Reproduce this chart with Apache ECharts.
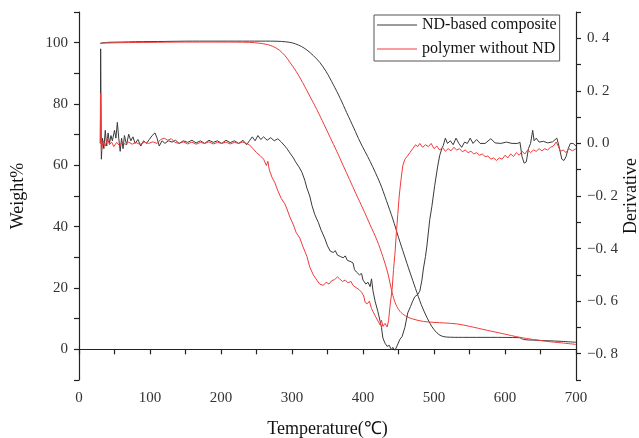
<!DOCTYPE html>
<html lang="en">
<head>
    <meta charset="UTF-8">
    <title>TGA / DTG</title>
    <script src="https://cdn.jsdelivr.net/npm/echarts@6/dist/echarts.min.js"></script>
    <style>
        body { margin: 0; background: #fff; }
    </style>
</head>
<body>
    <div id="chart" style="width: 639px; height: 438px;"></div>

    <script type="text/javascript">
        // legend names
        var seriesNames = ['ND-based composite', 'polymer without ND'];

        // weight % vs temperature (TGA), [T, W]
        var ndWeight = [
            [30, 99.8], [40, 100.1], [60, 100.2], [80, 100.3], [120, 100.4], [160, 100.5], [200, 100.5],
            [240, 100.5], [270, 100.5], [285, 100.4], [297, 100.1], [305, 99.6], [313, 98.8], [321, 97.6],
            [330, 95.8], [339, 93.6], [348, 90.6], [358, 86.4], [368, 81.8], [377, 77.2], [387, 72.2],
            [396, 67.6], [410, 61.3], [424, 54.2], [433, 48.5], [442, 42.5], [450, 36.5], [458, 30.8],
            [466, 25.2], [474, 19.8], [482, 14.6], [490, 10.4], [497, 7.4], [504, 5.4], [510, 4.4],
            [518, 4.0], [540, 3.9], [580, 3.9], [620, 3.8], [626, 3.2], [640, 3.0], [660, 2.8],
            [680, 2.6], [700, 2.3]
        ];
        var polyWeight = [
            [30, 99.8], [60, 100.0], [100, 100.1], [150, 100.2], [200, 100.2], [240, 100.1], [255, 99.8],
            [265, 99.4], [273, 98.8], [282, 97.6], [290, 95.8], [297, 93.6], [306, 90.6], [315, 87.0],
            [325, 82.6], [335, 78.2], [345, 73.4], [354, 69.0], [363, 64.6], [372, 60.0], [381, 55.4],
            [390, 50.8], [400, 45.8], [410, 40.6], [420, 35.4], [428, 30.2], [435, 24.8], [441, 18.5],
            [446, 14.8], [452, 12.4], [460, 10.9], [470, 9.9], [485, 9.1], [500, 8.8], [515, 8.6],
            [532, 8.3], [550, 7.5], [575, 6.2], [597, 5.1], [621, 3.9], [640, 3.2], [659, 2.6],
            [680, 2.1], [700, 1.6]
        ];

        // derivative vs temperature (DTG), [T, D]
        var ndDeriv = [
            [30, 0.0], [30.5, 0.36], [31.5, -0.06], [33, 0.02], [35, -0.02], [37, 0.05], [39, -0.01],
            [41, 0.04], [43, 0.0], [45, 0.03], [47, 0.01], [50, 0.05], [52, 0.02], [54, 0.08],
            [56, 0.02], [58, -0.03], [60, 0.02], [62, -0.02], [64, 0.03], [67, -0.005], [70, 0.035],
            [73, 0.01], [76, 0.025], [79, 0.0], [83, 0.015], [87, -0.01], [91, 0.01], [95, 0.0],
            [99, 0.015], [103, 0.03], [107, 0.04], [110, 0.02], [113, -0.01], [117, 0.01], [121, 0.0],
            [126, 0.01], [131, 0.005], [136, 0.012], [141, 0.0], [147, 0.01], [153, 0.004], [159, 0.012],
            [165, 0.002], [171, 0.01], [177, 0.0], [183, 0.012], [189, 0.004], [195, 0.01], [201, 0.0],
            [207, 0.012], [213, 0.003], [219, 0.01], [225, 0.0], [231, 0.012], [236, -0.005], [240, 0.01],
            [244, 0.025], [248, 0.01], [252, 0.03], [256, 0.015], [260, 0.025], [265, 0.012], [270, 0.022],
            [275, 0.01], [280, 0.018], [285, 0.005], [290, -0.01], [293, -0.02], [298, -0.04], [302, -0.055],
            [305, -0.07], [310, -0.09], [314, -0.11], [318, -0.14], [321, -0.17], [325, -0.2], [328, -0.235],
            [332, -0.27], [337, -0.3], [341, -0.33], [346, -0.36], [350, -0.39], [354, -0.41], [358, -0.415],
            [361, -0.408], [364, -0.425], [368, -0.43], [372, -0.435], [375, -0.428], [378, -0.445],
            [383, -0.45], [386, -0.455], [388, -0.48], [391, -0.49], [395, -0.5], [398, -0.495],
            [400, -0.52], [404, -0.535], [407, -0.528], [410, -0.545], [412, -0.515], [414, -0.56],
            [417, -0.6], [421, -0.64], [424, -0.675], [426, -0.7], [428, -0.74], [431, -0.76], [434, -0.772],
            [437, -0.768], [440, -0.785], [442, -0.776], [445, -0.787], [448, -0.77], [452, -0.745],
            [455, -0.735], [459, -0.7], [463, -0.645], [467, -0.62], [470, -0.6], [473, -0.583],
            [477, -0.575], [480, -0.562], [483, -0.52], [485, -0.478], [488, -0.43], [490, -0.39],
            [494, -0.29], [497, -0.24], [501, -0.16], [505, -0.09], [508, -0.046], [511, -0.02],
            [513, -0.008], [516, 0.02], [519, 0.0], [523, 0.01], [527, -0.005], [531, 0.02], [535, 0.0],
            [539, -0.015], [543, 0.005], [547, 0.0], [551, 0.02], [555, 0.0], [560, 0.015], [565, 0.0],
            [572, 0.0], [580, 0.018], [586, 0.002], [594, 0.0], [602, 0.005], [610, 0.0], [618, 0.0],
            [621, 0.005], [624, -0.05], [627, -0.075], [630, -0.07], [633, -0.02], [636, 0.0], [639, 0.05],
            [641, 0.01], [644, 0.02], [648, 0.005], [654, 0.008], [660, 0.002], [667, 0.006], [673, 0.02],
            [676, -0.01], [680, -0.06], [683, -0.065], [686, -0.05], [689, -0.02], [692, 0.0], [696, 0.0],
            [700, -0.01]
        ];
        var polyDeriv = [
            [30, 0.0], [30.5, 0.19], [31.5, -0.03], [34, 0.01], [37, -0.01], [40, 0.02], [43, -0.005],
            [46, 0.005], [49, -0.012], [53, 0.004], [57, -0.008], [61, 0.006], [65, -0.004], [70, 0.005],
            [75, -0.003], [80, 0.004], [86, -0.004], [92, 0.005], [98, 0.0], [104, 0.006], [110, 0.0],
            [115, 0.015], [120, 0.02], [125, 0.012], [130, 0.018], [135, 0.004], [141, 0.0], [147, 0.006],
            [153, -0.002], [159, 0.005], [165, -0.003], [171, 0.004], [177, 0.0], [183, 0.006], [189, -0.002],
            [195, 0.004], [201, 0.0], [207, 0.005], [213, -0.002], [219, 0.004], [225, 0.0], [230, 0.005],
            [236, 0.0], [240, -0.005], [245, -0.02], [250, -0.035], [255, -0.046], [260, -0.06],
            [264, -0.084], [266, -0.068], [268, -0.1], [272, -0.13], [276, -0.15], [280, -0.18],
            [285, -0.21], [290, -0.23], [293, -0.25], [297, -0.28], [302, -0.31], [306, -0.34],
            [311, -0.36], [315, -0.39], [318, -0.41], [321, -0.43], [325, -0.47], [330, -0.5],
            [335, -0.52], [339, -0.535], [344, -0.54], [348, -0.528], [352, -0.535], [356, -0.522],
            [360, -0.518], [364, -0.508], [367, -0.515], [371, -0.525], [375, -0.52], [379, -0.53],
            [383, -0.525], [386, -0.54], [390, -0.548], [394, -0.555], [398, -0.566], [401, -0.58],
            [403, -0.605], [406, -0.61], [409, -0.6], [412, -0.628], [415, -0.645], [418, -0.66],
            [421, -0.675], [424, -0.69], [426, -0.672], [428, -0.696], [431, -0.685], [434, -0.698],
            [436, -0.675], [438, -0.62], [441, -0.555], [443, -0.48], [445, -0.42], [447, -0.34],
            [449, -0.27], [451, -0.2], [453, -0.15], [456, -0.085], [459, -0.06], [462, -0.05],
            [466, -0.035], [470, -0.02], [474, -0.005], [477, -0.012], [480, 0.0], [484, -0.015],
            [488, -0.005], [492, -0.012], [496, 0.0], [500, -0.02], [504, -0.01], [508, -0.025],
            [512, -0.015], [516, -0.03], [520, -0.02], [524, -0.028], [528, -0.015], [532, -0.025],
            [536, -0.02], [540, -0.032], [544, -0.025], [548, -0.035], [552, -0.03], [556, -0.04],
            [560, -0.035], [564, -0.045], [568, -0.04], [572, -0.05], [576, -0.048], [580, -0.06],
            [584, -0.055], [588, -0.065], [592, -0.055], [596, -0.06], [600, -0.045], [604, -0.055],
            [608, -0.04], [612, -0.05], [616, -0.035], [620, -0.045], [624, -0.03], [628, -0.04],
            [632, -0.025], [636, -0.035], [640, -0.025], [644, -0.03], [648, -0.02], [652, -0.028],
            [656, -0.02], [660, -0.025], [664, -0.015], [668, -0.01], [672, 0.005], [675, -0.01],
            [678, -0.03], [682, -0.025], [686, -0.035], [690, -0.02], [695, -0.028], [700, -0.02]
        ];

        // tick values that get a label
        var weightLabels = [0, 20, 40, 60, 80, 100];
        var tempLabels = [0, 100, 200, 300, 400, 500, 600, 700];
        var derivLabels = [-0.8, -0.6, -0.4, -0.2, 0.0, 0.2, 0.4];

        var serif = 'Liberation Serif';
        var black = '#3a3a3a';
        var red = '#f23a3a';

        function hasLabel(list, v) {
            for (var i = 0; i < list.length; i++) {
                if (Math.abs(list[i] - v) < 1e-6) return true;
            }
            return false;
        }

        var axisLine = { show: true, lineStyle: { color: '#222', width: 1.2 } };
        var axisTick = { show: true, inside: false, length: 5, lineStyle: { color: '#222', width: 1.2 } };

        var option = {
            animation: false,
            backgroundColor: '#fff',
            grid: { left: 79, right: 63, top: 12, bottom: 58, containLabel: false, outerBoundsMode: 'none' },
            legend: {
                orient: 'vertical',
                left: 374,
                top: 15,
                data: seriesNames,
                icon: 'rect',
                itemWidth: 40,
                itemHeight: 1,
                itemGap: 8,
                padding: [2, 3, 4, 3],
                borderColor: '#555',
                borderWidth: 1,
                textStyle: { fontFamily: serif, fontSize: 16, color: '#111', lineHeight: 16 }
            },
            xAxis: {
                type: 'value',
                min: 0,
                max: 700,
                interval: 50,
                name: 'Temperature(℃)',
                nameLocation: 'middle',
                nameGap: 40,
                nameMoveOverlap: false,
                nameTextStyle: { fontFamily: serif, fontSize: 18, color: '#111' },
                axisLine: axisLine,
                axisTick: axisTick,
                splitLine: { show: false },
                axisLabel: {
                    margin: 11,
                    fontFamily: serif,
                    fontSize: 15,
                    color: '#333',
                    formatter: function (v) { return hasLabel(tempLabels, v) ? String(v) : ''; }
                }
            },
            yAxis: [{
                type: 'value',
                position: 'left',
                min: -10,
                max: 110,
                interval: 10,
                name: 'Weight%',
                nameLocation: 'middle',
                nameGap: 52,
                nameMoveOverlap: false,
                nameTextStyle: { fontFamily: serif, fontSize: 18, color: '#111' },
                axisLine: axisLine,
                axisTick: axisTick,
                splitLine: { show: false },
                axisLabel: {
                    margin: 11,
                    fontFamily: serif,
                    fontSize: 15,
                    color: '#333',
                    formatter: function (v) { return hasLabel(weightLabels, v) ? String(v) : ''; }
                }
            }, {
                type: 'value',
                position: 'right',
                min: -0.9,
                max: 0.5,
                interval: 0.1,
                name: 'Derivative',
                nameLocation: 'middle',
                nameGap: 46,
                nameMoveOverlap: false,
                nameTextStyle: { fontFamily: serif, fontSize: 18, color: '#111' },
                axisLine: axisLine,
                axisTick: axisTick,
                splitLine: { show: false },
                axisLabel: {
                    margin: 11,
                    fontFamily: serif,
                    fontSize: 15,
                    color: '#333',
                    formatter: function (v) {
                        if (!hasLabel(derivLabels, v)) return '';
                        var s = Math.abs(v).toFixed(1).replace('.', '. ');
                        return (v < -1e-6 ? '\u2212' : '') + s;
                    }
                }
            }],
            series: [{
                name: seriesNames[0],
                type: 'line',
                yAxisIndex: 0,
                data: ndWeight,
                smooth: 0.3,
                showSymbol: false,
                color: black,
                lineStyle: { width: 1, color: black }
            }, {
                name: seriesNames[1],
                type: 'line',
                yAxisIndex: 0,
                data: polyWeight,
                smooth: 0.3,
                showSymbol: false,
                color: red,
                lineStyle: { width: 1, color: red }
            }, {
                name: seriesNames[0],
                type: 'line',
                yAxisIndex: 1,
                data: ndDeriv,
                showSymbol: false,
                color: black,
                lineStyle: { width: 1, color: black }
            }, {
                name: seriesNames[1],
                type: 'line',
                yAxisIndex: 1,
                data: polyDeriv,
                showSymbol: false,
                color: red,
                lineStyle: { width: 1, color: red }
            }]
        };

        echarts.init(document.getElementById('chart')).setOption(option);
    </script>
</body>
</html>
